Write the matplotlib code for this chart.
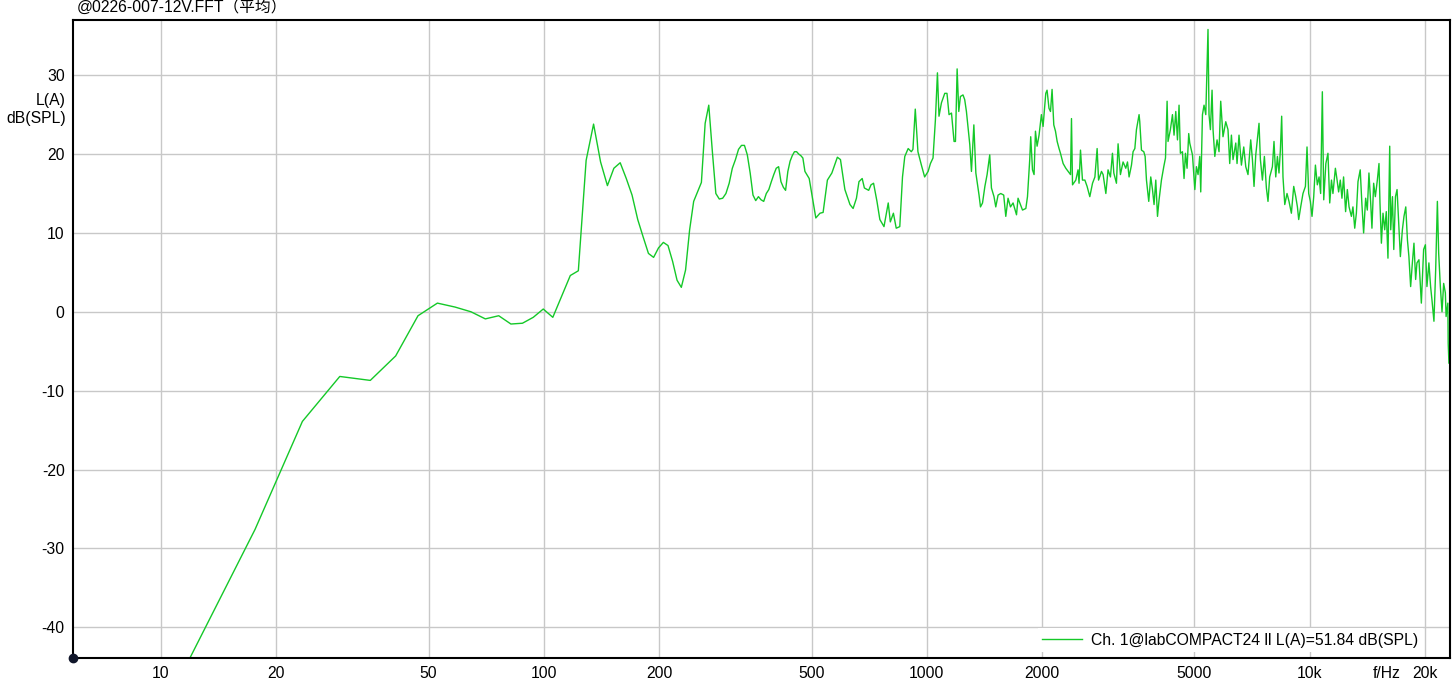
import matplotlib.pyplot as plt
import numpy as np
from matplotlib.ticker import FixedLocator, NullLocator

# FFT bins below ~480 Hz (bin width 5.86 Hz)
low_hz = [11.7, 17.6, 23.4, 29.3, 35.2, 41.0, 46.9, 52.7, 58.6, 64.5,
          70.3, 76.2, 82.0, 87.9, 93.8, 99.6, 105.5, 111.3, 117.2, 123.0,
          128.9, 134.8, 140.6, 146.5, 152.3, 158.2, 164.1, 169.9, 175.8, 181.6,
          187.5, 193.4, 199.2, 205.1, 210.9, 216.8, 222.7, 228.5, 234.4, 240.2,
          246.1, 251.9, 257.8, 263.7, 269.5, 275.4, 281.2, 287.1, 293.0, 298.8,
          304.7, 310.5, 316.4, 322.3, 328.1, 334.0, 339.8, 345.7, 351.6, 357.4,
          363.3, 369.1, 375.0, 380.9, 386.7, 392.6, 398.4, 404.3, 410.2, 416.0,
          421.9, 427.7, 433.6, 439.5, 445.3, 451.2, 457.0, 462.9, 468.8, 474.6,
          480.5]
low_db = [-44.6, -27.6, -13.9, -8.2, -8.7, -5.6, -0.5, 1.1, 0.6, 0.0,
          -0.9, -0.5, -1.55, -1.45, -0.7, 0.35, -0.7, 2.0, 4.6, 5.2,
          19.2, 23.8, 19.0, 16.0, 18.2, 18.9, 16.9, 14.8, 11.7, 9.5,
          7.4, 6.9, 8.1, 8.8, 8.4, 6.4, 4.0, 3.1, 5.3, 10.4,
          14.0, 15.2, 16.4, 23.9, 26.2, 20.3, 15.0, 14.3, 14.4, 15.0,
          16.3, 18.2, 19.3, 20.6, 21.1, 21.1, 19.9, 17.6, 14.8, 14.1,
          14.6, 14.2, 14.0, 15.0, 15.5, 16.5, 17.4, 18.2, 18.4, 16.5,
          15.8, 15.4, 17.8, 19.1, 19.8, 20.3, 20.3, 20.0, 19.8, 19.5,
          17.8]

mid_hz = [493, 513, 526, 536, 550, 565, 584, 595, 611, 630,
          642, 655, 665, 678, 687, 705, 715, 726, 741, 754,
          773, 793, 803, 818, 832, 850, 864, 876, 894, 911,
          920, 933, 948, 968, 987, 1008, 1022, 1038, 1053, 1066,
          1076, 1092, 1114, 1129, 1143, 1160, 1178, 1188, 1200, 1212,
          1224, 1243, 1256, 1269, 1295, 1308, 1327, 1343, 1369, 1381,
          1398, 1418, 1437, 1460, 1475, 1498, 1514, 1535, 1560, 1588,
          1608, 1630, 1654, 1680, 1715, 1731, 1756, 1778, 1814, 1832,
          1857, 1868, 1888, 1906, 1922, 1941, 1964, 1992, 2012, 2045,
          2061, 2085, 2104, 2124, 2146, 2168, 2190, 2215]
mid_db = [16.9, 11.9, 12.5, 12.6, 16.7, 17.6, 19.6, 19.3, 15.5, 13.6,
          13.1, 14.4, 16.5, 16.9, 15.7, 15.4, 16.1, 16.3, 14.0, 11.7,
          10.8, 13.8, 11.4, 12.5, 10.6, 10.8, 17.1, 19.7, 20.7, 20.3,
          20.6, 25.7, 20.3, 18.6, 17.1, 17.8, 18.8, 19.5, 24.3, 30.3,
          24.8, 26.5, 27.7, 27.7, 25.0, 25.2, 21.6, 21.6, 30.8, 25.4,
          27.3, 27.5, 26.9, 25.4, 21.2, 17.8, 23.7, 17.6, 14.8, 13.3,
          13.8, 15.9, 17.4, 19.9, 15.7, 14.6, 13.3, 14.8, 15.0, 14.8,
          12.1, 14.4, 13.3, 13.8, 12.3, 14.4, 13.6, 12.9, 13.1, 14.6,
          19.3, 22.2, 18.0, 17.4, 22.9, 21.0, 22.4, 25.0, 23.5, 27.7,
          28.1, 25.8, 25.4, 28.2, 23.7, 22.9, 21.6, 20.7]

hi1_hz = [2234, 2270, 2307, 2339, 2373, 2387, 2402, 2450, 2483, 2498,
          2520, 2550, 2587, 2622, 2665, 2709, 2748, 2785, 2809, 2859,
          2887, 2935, 2974, 3017, 3054, 3079, 3128, 3159, 3204, 3255,
          3309, 3343, 3375, 3424, 3457, 3494, 3528, 3584, 3599, 3636,
          3687, 3717, 3747, 3799, 3845, 3885, 3922, 3963, 4004, 4042,
          4100, 4158, 4201, 4242, 4266, 4327, 4381, 4423, 4469, 4515,
          4558, 4595, 4652, 4697, 4737, 4783, 4831]
hi1_db = [20.1, 18.8, 18.2, 17.8, 17.4, 24.5, 16.1, 16.7, 18.0, 16.3,
          20.5, 16.7, 16.7, 15.9, 14.6, 16.3, 17.1, 20.7, 16.7, 17.8,
          17.4, 15.0, 18.0, 17.1, 20.1, 17.6, 16.3, 21.3, 17.4, 19.0,
          18.2, 19.0, 17.1, 18.6, 20.3, 20.7, 23.1, 25.0, 24.1, 20.5,
          20.3, 19.7, 16.7, 14.0, 17.1, 15.5, 13.6, 16.7, 12.1, 14.2,
          16.7, 18.4, 19.5, 26.7, 21.6, 23.1, 25.0, 22.4, 25.4, 21.8,
          26.2, 20.1, 20.3, 16.9, 20.1, 18.2, 22.6]

hi2_hz = [4861, 4941, 5012, 5060, 5110, 5162, 5193, 5247, 5297, 5353,
          5425, 5458, 5504, 5559, 5592, 5652, 5729, 5797, 5856, 5937,
          6036, 6118, 6182, 6245, 6306, 6411, 6460, 6537, 6632, 6726,
          6808, 6900, 7014, 7086, 7155, 7230, 7328, 7373, 7434, 7525,
          7615, 7707, 7782, 7862, 7991, 8068, 8153, 8235, 8314, 8383,
          8449, 8516, 8608, 8725, 8830, 8957, 9084, 9195, 9288, 9360,
          9473, 9604, 9746, 9840, 9940, 10040, 10140, 10245, 10350, 10470,
          10580, 10680, 10790]
hi2_db = [21.4, 19.9, 15.5, 18.4, 17.4, 19.7, 15.2, 25.0, 26.2, 25.0,
          35.8, 25.0, 23.1, 28.1, 23.1, 19.7, 21.8, 20.3, 26.7, 22.2,
          24.1, 23.1, 18.8, 22.4, 19.3, 21.4, 18.8, 22.4, 18.6, 20.9,
          18.4, 17.4, 21.8, 19.3, 15.9, 19.9, 22.6, 23.9, 19.3, 16.7,
          19.7, 15.7, 14.0, 17.1, 18.4, 21.6, 17.1, 19.7, 17.6, 20.5,
          24.8, 17.1, 13.6, 15.0, 14.0, 12.5, 15.9, 14.6, 13.3, 11.7,
          13.3, 15.0, 15.9, 20.9, 15.0, 14.0, 12.1, 14.6, 18.6, 16.1,
          17.1, 15.0, 27.9]

hi3_hz = [10880, 11020, 11160, 11280, 11400, 11500, 11670, 11790, 11900, 12020,
          12140, 12260, 12410, 12540, 12670, 12850, 12970, 13110, 13240, 13370,
          13550, 13690, 13830, 14000, 14140, 14280, 14430, 14540, 14690, 14840,
          15020, 15170, 15260, 15390, 15540, 15700, 15850, 16010, 16180, 16280,
          16450, 16580, 16750, 16910, 17080, 17250, 17460, 17630, 17820, 18000,
          18160, 18350, 18540, 18720, 18910, 19060, 19290, 19570, 19840, 20050,
          20240, 20480, 20690, 20860, 21110, 21330, 21550, 21720, 21940, 22160,
          22380, 22610, 22710, 22950, 23000, 23100]
hi3_db = [14.2, 18.8, 20.1, 13.8, 16.7, 15.0, 18.2, 16.7, 15.2, 16.7,
          14.4, 17.1, 12.7, 15.5, 13.3, 12.1, 13.3, 10.6, 12.5, 16.5,
          18.0, 13.6, 10.0, 14.4, 12.9, 17.6, 13.8, 10.6, 16.3, 14.6,
          16.7, 18.8, 13.8, 8.7, 12.5, 10.4, 12.7, 6.8, 21.0, 10.4,
          14.6, 7.9, 14.6, 15.5, 11.2, 7.0, 10.4, 12.1, 13.3, 9.1,
          7.0, 3.2, 6.2, 8.7, 4.1, 6.2, 6.6, 1.1, 7.9, 8.5,
          3.2, 6.2, 3.2, 1.5, -1.2, 5.3, 14.0, 7.4, 3.2, 0.0,
          3.6, 2.4, -0.6, 1.1, -4.0, -6.5]

xticks = [10, 20, 50, 100, 200, 500, 1000, 2000, 5000, 10000, 20000]
xtick_labels = ['10', '20', '50', '100', '200', '500', '1000', '2000', '5000', '10k', '20k']
yticks = [-40, -30, -20, -10, 0, 10, 20, 30]

title = '@0226-007-12V.FFT（平均）'
legend_label = 'Ch. 1@labCOMPACT24 ll L(A)=51.84 dB(SPL)'

FS = 11.3
plt.rcParams['font.family'] = ['Liberation Sans', 'Noto Sans CJK SC', 'DejaVu Sans']
plt.rcParams['font.size'] = FS
plt.rcParams['axes.unicode_minus'] = False

freq = np.concatenate([low_hz, mid_hz, hi1_hz, hi2_hz, hi3_hz])
level = np.concatenate([low_db, mid_db, hi1_db, hi2_db, hi3_db])

fig = plt.figure(figsize=(14.52, 6.92), dpi=100)
ax = fig.add_axes([73 / 1452, 34 / 692, 1377 / 1452, 638 / 692])

ax.plot(freq, level, color='#14c828', lw=1.0, label=legend_label)

ax.set_xscale('log')
ax.set_xlim(5.89, 23250)
ax.set_ylim(-43.9, 37.0)

ax.xaxis.set_major_locator(FixedLocator(xticks))
ax.xaxis.set_minor_locator(NullLocator())
ax.set_xticklabels(xtick_labels)
ax.set_yticks(yticks)
ax.tick_params(axis='both', length=0, labelsize=FS, colors='black')
ax.tick_params(axis='x', pad=6)
ax.tick_params(axis='y', pad=6)

ax.grid(True, color='#c8c8c8', lw=1.0)
ax.set_axisbelow(True)
for s in ax.spines.values():
    s.set_color('black')
    s.set_linewidth(1.5)

# origin marker
ax.plot([0], [0], 'o', transform=ax.transAxes, clip_on=False,
        ms=6, color='#10162a', zorder=5)

leg = ax.legend(loc='center right', bbox_to_anchor=(0.9804, 18 / 638),
                frameon=True, fancybox=False, framealpha=1.0,
                edgecolor='none', facecolor='white', borderaxespad=0,
                borderpad=0.3, handlelength=2.55, handletextpad=0.57)

fig.text(77 / 1452, 1 - 7 / 692, title, ha='left', va='center', fontsize=FS)
fig.text(66 / 1452, 1 - 101 / 692, 'L(A)', ha='right', va='center', fontsize=FS)
fig.text(66 / 1452, 1 - 118 / 692, 'dB(SPL)', ha='right', va='center', fontsize=FS)
fig.text(1387 / 1452, 1 - 674 / 692, 'f/Hz', ha='center', va='center', fontsize=FS)

fig.savefig('out.png', dpi=100)
